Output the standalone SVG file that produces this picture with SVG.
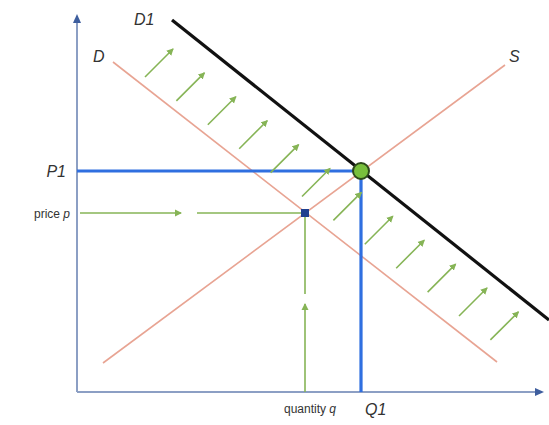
<svg xmlns="http://www.w3.org/2000/svg" width="549" height="425" viewBox="0 0 549 425">
<style>
.axis{stroke:#8c9fc4;stroke-width:2;fill:none}
.curve{stroke:#e8a493;stroke-width:1.6;fill:none}
.d1{stroke:#111;stroke-width:3.2;fill:none}
.blue{stroke:#2f6fe0;stroke-width:3.2;fill:none}
.g{stroke:#86b456;stroke-width:1.6;fill:none}
.lbl{font-family:"Liberation Sans",Arial,sans-serif;fill:#333}
.big{font-size:16px;font-style:italic}
.sm{font-size:12px}
</style>
<defs>
<marker id="ga" markerWidth="8" markerHeight="8" refX="6" refY="4" orient="auto" markerUnits="userSpaceOnUse">
<path d="M0,0.5 L7,4 L0,7.5 Z" fill="#86b456"/>
</marker>
<marker id="ba" markerWidth="10" markerHeight="10" refX="7" refY="5" orient="auto" markerUnits="userSpaceOnUse">
<path d="M0,1 L9,5 L0,9 Z" fill="#3e5e9e"/>
</marker>
</defs>
<g id="axes">
<line class="axis" x1="77" y1="392" x2="77" y2="16" marker-end="url(#ba)"/>
<line class="axis" x1="77" y1="392" x2="542" y2="392" marker-end="url(#ba)"/>
</g>
<g id="connectors">
<line class="curve" x1="113" y1="62" x2="497" y2="362"/>
<line class="curve" x1="103" y1="363" x2="505" y2="65"/>
<line class="d1" x1="172" y1="20" x2="549" y2="320"/>
<polyline class="blue" points="77,171 361,171 361,392"/>
<line class="g" x1="80" y1="213" x2="181" y2="213" marker-end="url(#ga)"/>
<line class="g" x1="197" y1="213" x2="305" y2="213"/>
<line class="g" x1="305" y1="392" x2="305" y2="304" marker-end="url(#ga)"/>
<line class="g" x1="305" y1="294" x2="305" y2="213"/>
<g id="shift-arrows">
<line class="g" x1="145" y1="77" x2="173" y2="49" marker-end="url(#ga)"/>
<line class="g" x1="176.4" y1="100.9" x2="204.4" y2="72.9" marker-end="url(#ga)"/>
<line class="g" x1="207.8" y1="124.8" x2="235.8" y2="96.8" marker-end="url(#ga)"/>
<line class="g" x1="239.2" y1="148.7" x2="267.2" y2="120.7" marker-end="url(#ga)"/>
<line class="g" x1="270.6" y1="172.6" x2="298.6" y2="144.6" marker-end="url(#ga)"/>
<line class="g" x1="302" y1="196.5" x2="330" y2="168.5" marker-end="url(#ga)"/>
<line class="g" x1="333.4" y1="220.4" x2="361.4" y2="192.4" marker-end="url(#ga)"/>
<line class="g" x1="364.8" y1="244.3" x2="392.8" y2="216.3" marker-end="url(#ga)"/>
<line class="g" x1="396.2" y1="268.2" x2="424.2" y2="240.2" marker-end="url(#ga)"/>
<line class="g" x1="427.6" y1="292.1" x2="455.6" y2="264.1" marker-end="url(#ga)"/>
<line class="g" x1="459" y1="316" x2="487" y2="288" marker-end="url(#ga)"/>
<line class="g" x1="490.4" y1="339.9" x2="518.4" y2="311.9" marker-end="url(#ga)"/>
</g>
</g>
<g id="eq-p">
<rect x="301" y="209" width="8" height="8" fill="#1f3f8f"/>
</g>
<g id="eq-p1">
<circle cx="361" cy="171" r="8" fill="#78bf3c" stroke="#2d4a1a" stroke-width="2"/>
</g>
<g id="labels">
<text class="lbl big" x="134" y="25">D1</text>
<text class="lbl big" x="93" y="62">D</text>
<text class="lbl big" x="509" y="62">S</text>
<text class="lbl big" x="66" y="177" text-anchor="end">P1</text>
<text class="lbl sm" x="70" y="218" text-anchor="end">price <tspan font-style="italic">p</tspan></text>
<text class="lbl sm" x="310" y="413" text-anchor="middle">quantity <tspan font-style="italic">q</tspan></text>
<text class="lbl big" x="365" y="415">Q1</text>
</g>
</svg>
